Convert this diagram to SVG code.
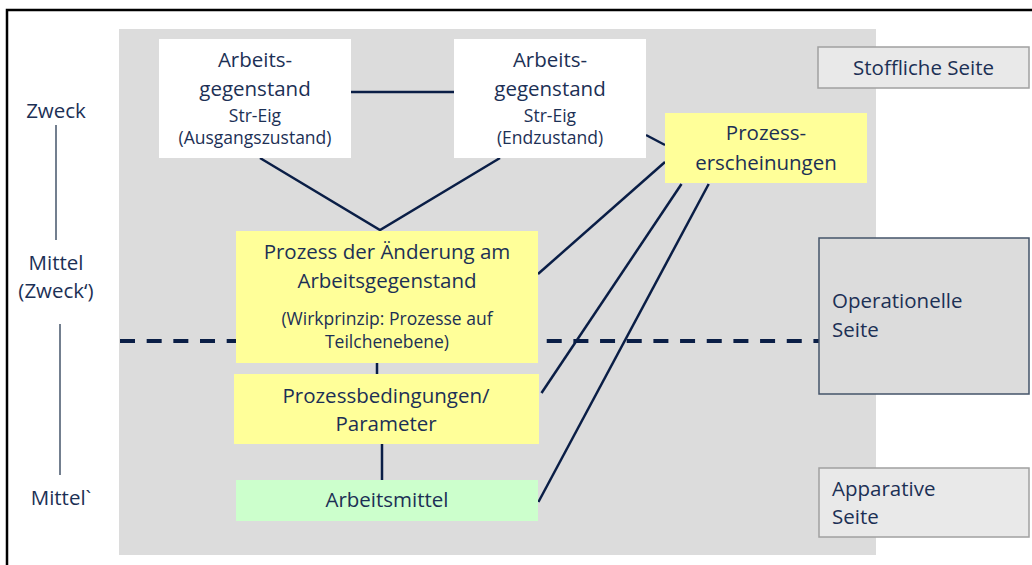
<svg xmlns="http://www.w3.org/2000/svg" width="1032" height="565" viewBox="0 0 1032 565">
<style>
text{font-family:"Open Sans","Liberation Sans",sans-serif;fill:#1c3055;font-size:20.5px}
.c{text-anchor:middle}
.s{font-size:17.5px}
.con{stroke:#0a1e46;stroke-width:2.5;fill:none}
.yel{fill:#ffff99}
.wh{fill:#ffffff}
</style>
<rect x="7" y="10" width="1060" height="600" fill="#ffffff" stroke="#000000" stroke-width="2.5"/>
<rect id="bg" x="119" y="29" width="757" height="526" fill="#dcdcdc"/>
<g id="left-labels">
<text class="c" x="56" y="118">Zweck</text>
<line x1="56" y1="125" x2="56" y2="240" stroke="#44546a" stroke-width="1.5"/>
<text class="c" x="56" y="270">Mittel</text>
<text class="c" x="56" y="298">(Zweck‘)</text>
<line x1="60" y1="324" x2="60" y2="475" stroke="#44546a" stroke-width="1.5"/>
<text class="c" x="61" y="505">Mittel`</text>
</g>
<g id="dash">
<line x1="120" y1="341" x2="819" y2="341" stroke="#0a1e46" stroke-width="4" stroke-dasharray="15 11.67"/>
</g>
<g id="connectors">
<line class="con" x1="351" y1="92" x2="454" y2="92"/>
<polyline class="con" points="260,158 380,230 500,158"/>
<line class="con" x1="646" y1="135" x2="665" y2="145"/>
<line class="con" x1="665" y1="162" x2="538" y2="274"/>
<line class="con" x1="681.5" y1="184" x2="541.5" y2="393"/>
<line class="con" x1="708.7" y1="184" x2="538.4" y2="502"/>
<line class="con" x1="377" y1="363" x2="377" y2="374"/>
<line class="con" x1="382" y1="444" x2="382" y2="480"/>
</g>
<g id="ag-start">
<rect class="wh" x="159" y="39" width="192" height="119"/>
<text class="c" x="255" y="67">Arbeits-</text>
<text class="c" x="255" y="96">gegenstand</text>
<text class="c s" x="255" y="122">Str-Eig</text>
<text class="c s" x="255" y="144">(Ausgangszustand)</text>
</g>
<g id="ag-end">
<rect class="wh" x="454" y="39" width="192" height="119"/>
<text class="c" x="550" y="67">Arbeits-</text>
<text class="c" x="550" y="96">gegenstand</text>
<text class="c s" x="550" y="122">Str-Eig</text>
<text class="c s" x="550" y="144">(Endzustand)</text>
</g>
<g id="prozesserscheinungen">
<rect class="yel" x="665" y="113" width="202" height="70"/>
<text class="c" x="766" y="140">Prozess-</text>
<text class="c" x="766" y="170">erscheinungen</text>
</g>
<g id="prozess">
<rect class="yel" x="236" y="231" width="302" height="132"/>
<text class="c" x="387" y="259">Prozess der Änderung am</text>
<text class="c" x="387" y="288">Arbeitsgegenstand</text>
<text class="c s" x="387" y="325">(Wirkprinzip: Prozesse auf</text>
<text class="c s" x="387" y="348">Teilchenebene)</text>
</g>
<g id="bedingungen">
<rect class="yel" x="234" y="374" width="305" height="70"/>
<text class="c" x="386" y="403">Prozessbedingungen/</text>
<text class="c" x="386" y="431">Parameter</text>
</g>
<g id="arbeitsmittel">
<rect x="236" y="480" width="302" height="41" fill="#ccffcc"/>
<text class="c" x="387" y="507">Arbeitsmittel</text>
</g>
<g id="stoffliche">
<rect x="818" y="47" width="211" height="41" fill="#e9e9e9" stroke="#a0a0a0" stroke-width="1.5"/>
<text class="c" x="923.5" y="75">Stoffliche Seite</text>
</g>
<g id="operationelle">
<rect x="819" y="238" width="210" height="156" fill="#dcdcdc" stroke="#44546a" stroke-width="1.5"/>
<text x="832" y="308">Operationelle</text>
<text x="832" y="337">Seite</text>
</g>
<g id="apparative">
<rect x="819" y="468" width="210" height="69" fill="#e9e9e9" stroke="#a0a0a0" stroke-width="1.5"/>
<text x="832" y="496">Apparative</text>
<text x="832" y="524">Seite</text>
</g>
</svg>
